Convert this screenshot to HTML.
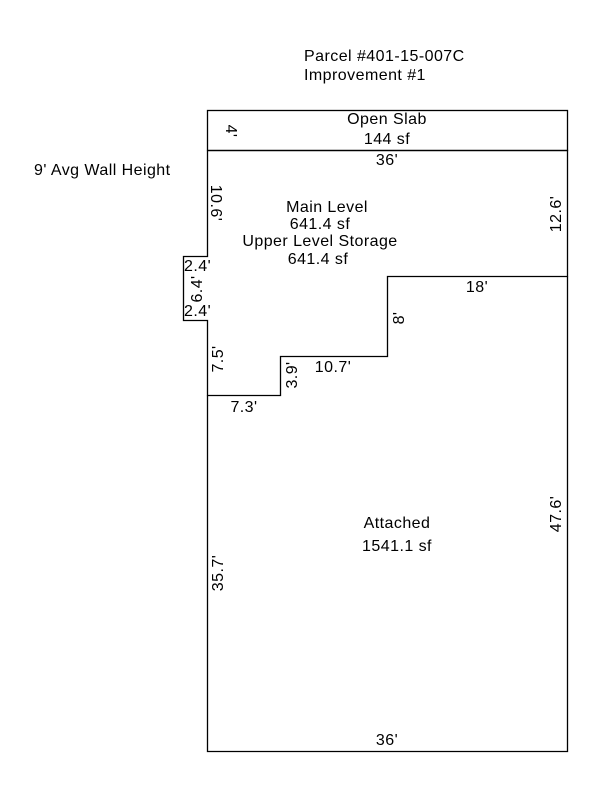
<!DOCTYPE html>
<html><head><style>
body{margin:0;background:#fff}
svg text{font-family:"Liberation Sans",Arial,sans-serif;font-size:16px;letter-spacing:0.45px;fill:#000}
</style></head><body>
<svg width="600" height="800" xmlns="http://www.w3.org/2000/svg">
<g fill="none" stroke="#000" stroke-width="1.3">
<rect x="207.5" y="110.5" width="360" height="40"/>
<polyline points="207.5,150.5 567.5,150.5 567.5,276.5 387.5,276.5 387.5,356.5 280.5,356.5 280.5,395.5 207.5,395.5 207.5,320.5 183.5,320.5 183.5,256.5 207.5,256.5 207.5,150.5"/>
<polyline points="207.5,395.5 207.5,751.5 567.5,751.5 567.5,276.5"/>
</g>
<text x="304" y="61">Parcel #401-15-007C</text>
<text x="304" y="80">Improvement #1</text>
<text x="34" y="175">9' Avg Wall Height</text>
<text x="387" y="124" text-anchor="middle">Open Slab</text>
<text x="387" y="144" text-anchor="middle">144 sf</text>
<text x="387" y="165" text-anchor="middle">36'</text>
<text x="327" y="212" text-anchor="middle">Main Level</text>
<text x="320" y="229" text-anchor="middle">641.4 sf</text>
<text x="320" y="246" text-anchor="middle">Upper Level Storage</text>
<text x="318" y="264" text-anchor="middle">641.4 sf</text>
<text x="477" y="292" text-anchor="middle">18'</text>
<text x="333" y="372" text-anchor="middle">10.7'</text>
<text x="244" y="412" text-anchor="middle">7.3'</text>
<text x="184" y="271">2.4'</text>
<text x="184" y="316">2.4'</text>
<text x="397" y="528" text-anchor="middle">Attached</text>
<text x="397" y="551" text-anchor="middle">1541.1 sf</text>
<text x="387" y="745" text-anchor="middle">36'</text>
<text transform="translate(226,131) rotate(90)" text-anchor="middle">4'</text>
<text transform="translate(211,203) rotate(90)" text-anchor="middle">10.6'</text>
<text transform="translate(561,214) rotate(-90)" text-anchor="middle">12.6'</text>
<text transform="translate(561,514) rotate(-90)" text-anchor="middle">47.6'</text>
<text transform="translate(202,289) rotate(-90)" text-anchor="middle">6.4'</text>
<text transform="translate(223,359) rotate(-90)" text-anchor="middle">7.5'</text>
<text transform="translate(297,375) rotate(-90)" text-anchor="middle">3.9'</text>
<text transform="translate(404,318) rotate(-90)" text-anchor="middle">8'</text>
<text transform="translate(223,573) rotate(-90)" text-anchor="middle">35.7'</text>
</svg>
</body></html>
